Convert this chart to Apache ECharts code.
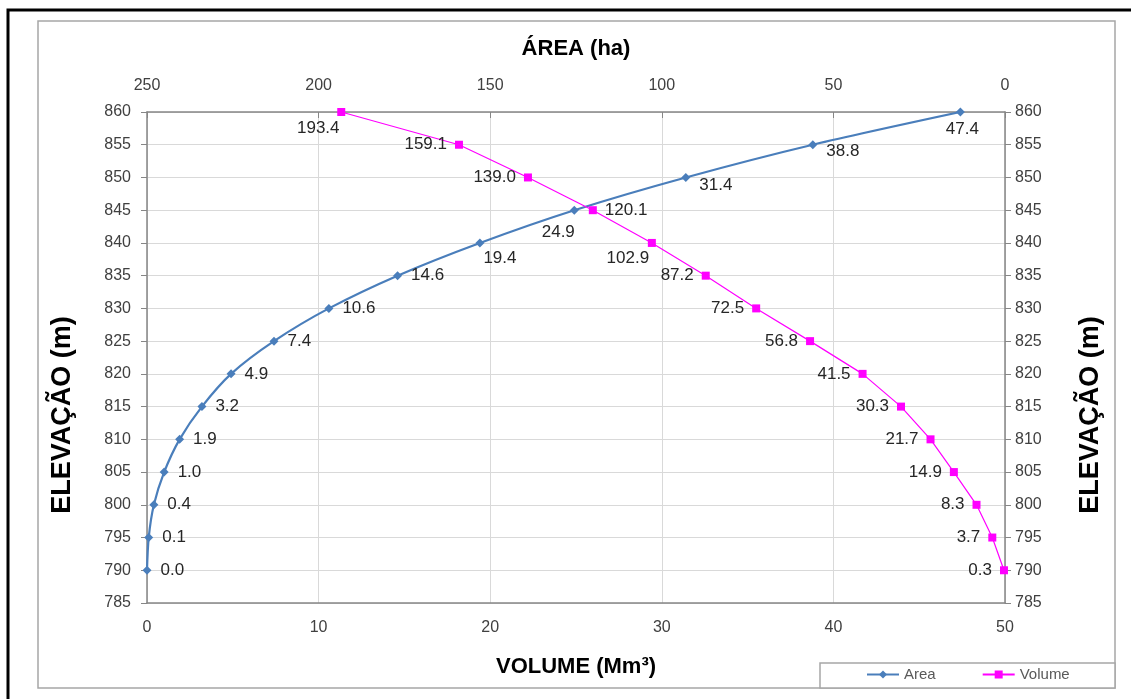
<!DOCTYPE html>
<html>
<head>
<meta charset="utf-8">
<script src="https://cdn.jsdelivr.net/npm/echarts@6/dist/echarts.min.js"></script>
<style>
  html, body { margin: 0; padding: 0; background: #fff; }
  #chart { width: 1131px; height: 699px; }
</style>
</head>
<body>
<div id="chart"></div>
<script>
// elevation levels (m)
const elevations = [790, 795, 800, 805, 810, 815, 820, 825, 830, 835, 840, 845, 850, 855, 860];
// blue curve, read on the bottom axis (Mm³)
const volumeMm3 = [0.0, 0.1, 0.4, 1.0, 1.9, 3.2, 4.9, 7.4, 10.6, 14.6, 19.4, 24.9, 31.4, 38.8, 47.4];
// magenta curve, read on the top axis (ha)
const areaHa = [0.3, 3.7, 8.3, 14.9, 21.7, 30.3, 41.5, 56.8, 72.5, 87.2, 102.9, 120.1, 139.0, 159.1, 193.4];

const legendNames = ["Area", "Volume"];

const font = "Liberation Sans, Arial, sans-serif";
const tickLabel = { color: "#404040", fontSize: 16, fontFamily: font };
const titleStyle = { color: "#000", fontSize: 22, fontWeight: "bold", fontFamily: font };
const axisLineStyle = { color: "#868686", width: 1.5 };

// label placement tweaks for a few points, index -> label options
const blueLabel = {
  10: { position: "right", offset: [-10, 15] },
  11: { position: "bottom", distance: 9, offset: [-16, 0] },
  12: { position: "right", offset: [0, 8] },
  13: { position: "right", offset: [0, 7] },
  14: { position: "bottom", distance: 4, offset: [2, 0] }
};
const pinkLabel = {
  14: { position: "bottom", distance: 4, offset: [-23, 0] },
  11: { position: "right" },
  10: { position: "bottom", distance: 3, offset: [-24, 0] }
};

const blueData = elevations.map((e, i) => ({
  value: [volumeMm3[i], e],
  label: blueLabel[i] || { position: "right" }
}));
const pinkData = elevations.map((e, i) => ({
  value: [areaHa[i], e],
  label: pinkLabel[i] || { position: "left" }
}));

const chart = echarts.init(document.getElementById("chart"));
const option = {
  animation: false,
  backgroundColor: "#fff",
  textStyle: { fontFamily: font },
  grid: { left: 147, right: 126, top: 112, bottom: 96 },
  graphic: [
    { type: "rect", shape: { x: 8, y: 10, width: 1140, height: 700 }, style: { fill: "none", stroke: "#000", lineWidth: 3 } },
    { type: "rect", shape: { x: 38, y: 21, width: 1077, height: 667 }, style: { fill: "none", stroke: "#a6a6a6", lineWidth: 1.5 } },
    { type: "rect", shape: { x: 820, y: 663, width: 295, height: 25 }, style: { fill: "#fff", stroke: "#a6a6a6", lineWidth: 1.5 } },
    { type: "text", x: 63, y: 415, rotation: Math.PI / 2,
      style: { text: "ELEVAÇÃO (m)", fill: "#000", font: "bold 27px " + font, align: "center", verticalAlign: "middle" } },
    { type: "text", x: 1091, y: 415, rotation: Math.PI / 2,
      style: { text: "ELEVAÇÃO (m)", fill: "#000", font: "bold 27px " + font, align: "center", verticalAlign: "middle" } }
  ],
  legend: {
    left: 866, top: 667,
    padding: 0,
    itemGap: 46,
    itemWidth: 32, itemHeight: 10,
    textStyle: { color: "#595959", fontSize: 15, fontFamily: font },
    data: legendNames
  },
  xAxis: [
    {
      type: "value", position: "bottom", min: 0, max: 50, interval: 10,
      name: "VOLUME (Mm³)", nameLocation: "middle", nameGap: 53, nameTextStyle: titleStyle,
      axisLine: { show: true, onZero: false, lineStyle: axisLineStyle },
      axisTick: { show: false },
      axisLabel: Object.assign({ margin: 17 }, tickLabel),
      splitLine: { show: true, lineStyle: { color: "#d9d9d9" } }
    },
    {
      type: "value", position: "top", min: 0, max: 250, interval: 50, inverse: true,
      name: "ÁREA (ha)", nameLocation: "middle", nameGap: 52, nameTextStyle: titleStyle,
      axisLine: { show: true, onZero: false, lineStyle: axisLineStyle },
      axisTick: { show: true, inside: true, length: 6, lineStyle: { color: "#868686" } },
      axisLabel: Object.assign({ margin: 18 }, tickLabel),
      splitLine: { show: false }
    }
  ],
  yAxis: [
    {
      type: "value", position: "left", min: 785, max: 860, interval: 5,
      axisLine: { show: true, onZero: false, lineStyle: axisLineStyle },
      axisTick: { show: true, length: 6, lineStyle: { color: "#868686" } },
      axisLabel: Object.assign({ margin: 16 }, tickLabel),
      splitLine: { show: true, lineStyle: { color: "#d9d9d9" } }
    },
    {
      type: "value", position: "right", min: 785, max: 860, interval: 5,
      axisLine: { show: true, onZero: false, lineStyle: axisLineStyle },
      axisTick: { show: true, length: 6, lineStyle: { color: "#868686" } },
      axisLabel: Object.assign({ margin: 10 }, tickLabel),
      splitLine: { show: false }
    }
  ],
  series: [
    {
      name: legendNames[0], type: "line", xAxisIndex: 0, yAxisIndex: 0,
      data: blueData, smooth: 0.3,
      symbol: "diamond", symbolSize: 9,
      lineStyle: { color: "#4a7ebb", width: 2.2 },
      itemStyle: { color: "#4a7ebb" },
      label: { show: true, distance: 9, color: "#262626", fontSize: 17, fontFamily: font,
        formatter: (p) => p.value[0].toFixed(1) }
    },
    {
      name: legendNames[1], type: "line", xAxisIndex: 1, yAxisIndex: 0,
      data: pinkData,
      symbol: "rect", symbolSize: 8,
      lineStyle: { color: "#ff00ff", width: 1.2 },
      itemStyle: { color: "#ff00ff" },
      label: { show: true, distance: 8, color: "#262626", fontSize: 17, fontFamily: font,
        formatter: (p) => p.value[0].toFixed(1) }
    }
  ]
};
chart.setOption(option);
</script>
</body>
</html>
